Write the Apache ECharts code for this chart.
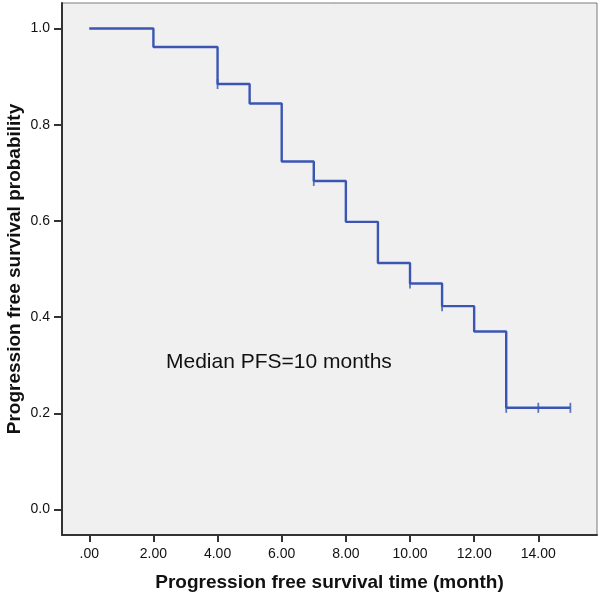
<!DOCTYPE html>
<html>
<head>
<meta charset="utf-8">
<script src="https://cdn.jsdelivr.net/npm/echarts@6/dist/echarts.min.js"></script>
<style>html,body{margin:0;padding:0;background:#fff;}#c{width:600px;height:596px;}</style>
</head>
<body>
<div id="c"></div>
<script>
// Kaplan-Meier step points (time in months, survival probability)
var stepTimes = [0, 2, 4, 5, 6, 7, 8, 9, 10, 11, 12, 13, 15];
var stepSurv  = [1.0, 0.9615, 0.8846, 0.844, 0.7236, 0.683, 0.598, 0.5125, 0.4698, 0.4228, 0.370, 0.2114, 0.2114];
// Censored observations
var censorTimes = [4, 7, 10, 11, 13, 14, 15];
var censorSurv  = [0.8846, 0.683, 0.4698, 0.4228, 0.2114, 0.2114, 0.2114];
// Tick values
var xTicks = [0, 2, 4, 6, 8, 10, 12, 14];
var yTicks = [0, 0.2, 0.4, 0.6, 0.8, 1.0];

var FONT = 'Liberation Sans, Arial, sans-serif';
var LINE = '#3a56b2';

var chart = echarts.init(document.getElementById('c'), null, {renderer: 'canvas'});
chart.setOption({
  animation: false,
  grid: {left: 62, right: 3, top: 3, bottom: 61, outerBoundsMode: 'none', containLabel: false,
    show: true, backgroundColor: '#f0f0f0', borderColor: '#7a7a7a', borderWidth: 1},
  xAxis: {
    type: 'value', min: -0.85, max: 15.83,
    name: 'Progression free survival time (month)', nameLocation: 'middle', nameGap: 38, nameMoveOverlap: false,
    nameTextStyle: {fontFamily: FONT, fontWeight: 'bold', fontSize: 19, color: '#111'},
    splitLine: {show: false},
    axisLine: {show: true, onZero: false, lineStyle: {color: '#333', width: 2}},
    axisTick: {show: true, length: 7, customValues: xTicks, lineStyle: {color: '#333', width: 2}},
    axisLabel: {customValues: xTicks, margin: 12, fontFamily: FONT, fontSize: 14, color: '#111',
      formatter: function (v) { return v === 0 ? '.00' : v.toFixed(2); }}
  },
  yAxis: {
    type: 'value', min: -0.053, max: 1.053,
    name: 'Progression free survival probability', nameLocation: 'middle', nameGap: 38, nameMoveOverlap: false,
    nameTextStyle: {fontFamily: FONT, fontWeight: 'bold', fontSize: 19, color: '#111'},
    splitLine: {show: false},
    axisLine: {show: true, onZero: false, lineStyle: {color: '#333', width: 2}},
    axisTick: {show: true, length: 8, customValues: yTicks, lineStyle: {color: '#333', width: 2}},
    axisLabel: {customValues: yTicks, margin: 12, fontFamily: FONT, fontSize: 14, color: '#111',
      formatter: function (v) { return v.toFixed(1); }}
  },
  series: [
    {
      type: 'line', step: 'end', symbol: 'none',
      lineStyle: {color: LINE, width: 2.4},
      data: stepTimes.map(function (t, i) { return [t, stepSurv[i]]; })
    },
    {
      type: 'scatter', symbol: 'rect', symbolSize: [1.8, 10],
      itemStyle: {color: LINE},
      data: censorTimes.map(function (t, i) { return [t, censorSurv[i]]; })
    }
  ],
  graphic: [{
    type: 'text', left: 166, top: 352,
    style: {text: 'Median PFS=10 months', fontFamily: FONT, fontSize: 21, fill: '#111'}
  }]
});
</script>
</body>
</html>
